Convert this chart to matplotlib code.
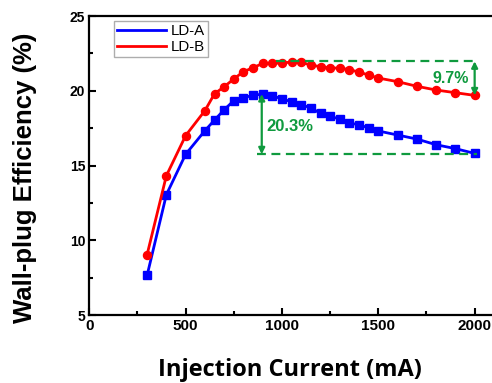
import matplotlib
matplotlib.use("Agg")
import matplotlib.pyplot as plt
from matplotlib.ticker import MultipleLocator

# Data
current = [300, 400, 500, 600, 650, 700, 750, 800, 850, 900, 950, 1000, 1050,
           1100, 1150, 1200, 1250, 1300, 1350, 1400, 1450, 1500, 1600, 1700,
           1800, 1900, 2000]
eff_a = [7.65, 13.05, 15.75, 17.33, 18.04, 18.73, 19.34, 19.54, 19.69, 19.78,
         19.67, 19.45, 19.27, 19.07, 18.85, 18.49, 18.29, 18.11, 17.84, 17.73,
         17.51, 17.31, 17.04, 16.77, 16.39, 16.13, 15.81]
eff_b = [9.04, 14.32, 17.0, 18.67, 19.80, 20.27, 20.79, 21.28, 21.54, 21.83,
         21.83, 21.86, 21.92, 21.90, 21.72, 21.61, 21.52, 21.52, 21.41, 21.25,
         21.05, 20.85, 20.61, 20.30, 20.05, 19.87, 19.69]
labels = ["LD-A", "LD-B"]

drop_a = "20.3%"
drop_b = "9.7%"
peak_a, end_a = 19.78, 15.75
peak_b, end_b = 21.97, 19.69

green = "#0f9a3e"

fig = plt.figure(figsize=(4.92, 3.83), dpi=100)
ax = fig.add_axes([0.1815, 0.1775, 0.8224, 0.7807])

ax.plot(current, eff_a, color="#0000ff", lw=2.0, marker="s", ms=5.5, label=labels[0])
ax.plot(current, eff_b, color="#ff0000", lw=2.0, marker="o", ms=5.8, label=labels[1])

# dashed reference lines
ax.plot([870, 2010], [end_a, end_a], ls=(0, (4, 2.5)), color=green, lw=1.6)
ax.plot([970, 2010], [peak_b, peak_b], ls=(0, (4, 2.5)), color=green, lw=1.6)

arrow = dict(arrowstyle="<|-|>", color=green, lw=1.6, mutation_scale=9,
             shrinkA=0, shrinkB=0)
ax.annotate("", xy=(895, end_a), xytext=(895, peak_a), arrowprops=arrow)
ax.annotate("", xy=(2000, end_b), xytext=(2000, peak_b), arrowprops=arrow)
ax.text(918, 17.6, drop_a, color=green, fontsize=12, fontweight="bold",
        family="Liberation Sans", va="center", ha="left")
ax.text(1968, 20.85, drop_b, color=green, fontsize=11.5, fontweight="bold",
        family="Liberation Sans", va="center", ha="right")

ax.set_xlim(0, 2100)
ax.set_ylim(5, 25)
ax.xaxis.set_major_locator(MultipleLocator(500))
ax.xaxis.set_minor_locator(MultipleLocator(250))
ax.yaxis.set_major_locator(MultipleLocator(5))
ax.yaxis.set_minor_locator(MultipleLocator(2.5))
ax.tick_params(which="both", direction="in", width=1.5)
ax.tick_params(which="major", length=5)
ax.tick_params(which="minor", length=3)
ax.tick_params(axis="x", labelsize=11, pad=3)
ax.tick_params(axis="y", labelsize=10, pad=3)
for lab in ax.get_xticklabels() + ax.get_yticklabels():
    lab.set_fontweight("bold")
    lab.set_family("Liberation Sans")
for sp in ax.spines.values():
    sp.set_linewidth(1.6)

leg = ax.legend(loc="upper left", bbox_to_anchor=(0.061, 0.983),
                borderaxespad=0, handlelength=3.3,
                prop={"family": "Liberation Sans", "size": 10.8},
                fancybox=False, edgecolor="#999999", borderpad=0.2,
                labelspacing=0.15, handletextpad=0.3)
for h in leg.get_lines():
    h.set_marker("")
leg.get_frame().set_linewidth(1.0)

fig.text(290 / 492, 1 - 370 / 383, "Injection Current (mA)", ha="center",
         va="center", fontsize=17, fontweight="bold", family="Open Sans")
fig.text(25 / 492, 1 - 178 / 383, "Wall-plug Efficiency (%)", ha="center",
         va="center", rotation=90, fontsize=18.5, fontweight="bold",
         family="Liberation Sans")

fig.savefig("out.png", dpi=100)
